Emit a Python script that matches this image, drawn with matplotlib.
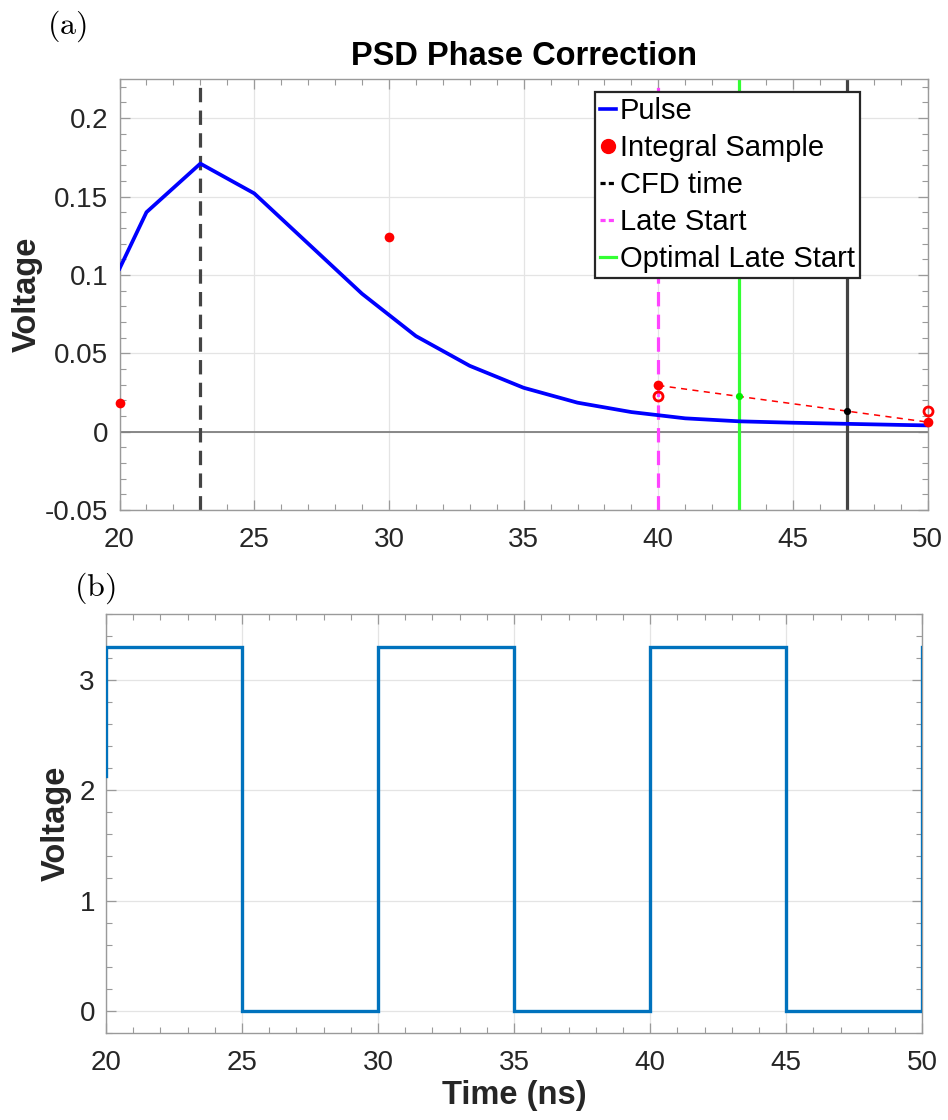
import numpy as np
import matplotlib
matplotlib.use("Agg")
import matplotlib.pyplot as plt
from matplotlib.ticker import MultipleLocator, FuncFormatter
from matplotlib.lines import Line2D

plt.rcParams['font.family'] = ['Liberation Sans', 'DejaVu Sans']
plt.rcParams['axes.unicode_minus'] = False
plt.rcParams['mathtext.fontset'] = 'cm'

# ---- pulse waveform (ns, V) ----
pulse_t = [20, 21, 23, 25, 27, 29, 31, 33, 35, 37, 39, 41, 43, 45, 47, 49, 50]
pulse_v = [0.104, 0.140, 0.171, 0.152, 0.120, 0.088, 0.061, 0.042, 0.028,
           0.0185, 0.0125, 0.0085, 0.0066, 0.0057, 0.0050, 0.0043, 0.0040]

# integral samples taken every 10 ns
sample_t = [20, 30, 40, 50]
sample_v = [0.018, 0.124, 0.0295, 0.0061]

# phase-corrected sample values (re-plotted at the window edges)
shifted_t = [40, 50]
shifted_v = [0.0225, 0.0132]

# timing markers
cfd_time = 23
late_start = 40
optimal_late_start = 43
late_end = 47
optimal_v = 0.0225
late_end_v = 0.0132

# ---- clock signal ----
clock_t = [20, 20, 25, 25, 30, 30, 35, 35, 40, 40, 45, 45, 50, 50]
clock_v = [2.13, 3.3, 3.3, 0, 0, 3.3, 3.3, 0, 0, 3.3, 3.3, 0, 0, 3.3]

x_ticks = [20, 25, 30, 35, 40, 45, 50]

SPINE = '#9a9a9a'
TXT = '#262626'
TICK_FS = 20
LABEL_FS = 23.5

fig = plt.figure(figsize=(9.48, 11.2), dpi=100)
ax1 = fig.add_axes([0.1261, 0.5446, 0.8525, 0.3849])
ax2 = fig.add_axes([0.1118, 0.0777, 0.8610, 0.3744])


def style_axes(ax):
    for s in ax.spines.values():
        s.set_color(SPINE)
        s.set_linewidth(1.0)
    ax.tick_params(which='both', direction='in', top=True, right=True,
                   color=SPINE, labelcolor=TXT, labelsize=TICK_FS)
    ax.tick_params(which='major', length=7, width=0.9, pad=8)
    ax.tick_params(axis='x', which='major', pad=12)
    ax.tick_params(which='minor', length=4.5, width=0.8)
    ax.grid(True, which='major', color='#e4e4e4', linewidth=0.9)
    ax.set_axisbelow(True)
    ax.set_xlim(20, 50)
    ax.set_xticks(x_ticks)
    ax.xaxis.set_minor_locator(MultipleLocator(1))


fmt = FuncFormatter(lambda v, p: ('%g' % round(v, 4)))

# ---------- (a) PSD phase correction ----------
style_axes(ax1)
ax1.set_ylim(-0.05, 0.225)
ax1.yaxis.set_major_locator(MultipleLocator(0.05))
ax1.yaxis.set_minor_locator(MultipleLocator(0.01))
ax1.yaxis.set_major_formatter(fmt)

ax1.axhline(0, color='#808080', linewidth=1.3, zorder=1.5)

ax1.axvline(cfd_time, color='#444444', linewidth=2.3, dashes=(4.5, 2.6), zorder=2)
ax1.axvline(late_start, color='#ff44ff', linewidth=2.3, dashes=(4.5, 2.6), zorder=2)
ax1.axvline(optimal_late_start, color='#33ff33', linewidth=2.3, zorder=2)
ax1.axvline(late_end, color='#444444', linewidth=2.3, zorder=2)

ax1.plot(pulse_t, pulse_v, color='#0000ff', linewidth=2.7, zorder=3,
         solid_joinstyle='round')

ax1.plot([sample_t[2], sample_t[3]], [sample_v[2], sample_v[3]], color='#ff0000',
         linewidth=1.1, dashes=(4, 3.5), zorder=3)
ax1.plot(sample_t, sample_v, 'o', color='#ff0000', markersize=7, zorder=4,
         clip_on=False, markeredgewidth=0)
ax1.plot(shifted_t, shifted_v, 'o', markerfacecolor='none', markeredgecolor='#ff0000',
         markersize=6.5, markeredgewidth=2.0, zorder=4, clip_on=False)
ax1.plot([optimal_late_start], [optimal_v], 'o', color='#00ee00', markersize=5.2,
         markeredgewidth=0, zorder=5)
ax1.plot([late_end], [late_end_v], 'o', color='#000000', markersize=5.2,
         markeredgewidth=0, zorder=5)

ax1.set_title('PSD Phase Correction', fontsize=LABEL_FS, fontweight='bold',
              color='#000000', pad=10)
ax1.set_ylabel('Voltage', fontsize=LABEL_FS, fontweight='bold', color=TXT)
ax1.yaxis.set_label_coords(-0.0947, 0.5)

handles = [
    Line2D([], [], color='#0000ff', linewidth=2.6),
    Line2D([], [], color='#ff0000', marker='o', linestyle='none', markersize=10),
    Line2D([], [], color='#000000', linewidth=2.3, dashes=(1.6, 1.0)),
    Line2D([], [], color='#ff44ff', linewidth=2.3, dashes=(1.6, 1.0)),
    Line2D([], [], color='#33ff33', linewidth=2.3),
]
labels = ['Pulse', 'Integral Sample', 'CFD time', 'Late Start', 'Optimal Late Start']
leg = ax1.legend(handles, labels, loc='upper left', bbox_to_anchor=(0.588, 0.970),
                 borderaxespad=0, fontsize=21, frameon=True, fancybox=False,
                 framealpha=1, edgecolor='#262626', handlelength=0.55,
                 handletextpad=0.15, borderpad=0.17, labelspacing=0.31)
leg.get_frame().set_linewidth(1.6)
leg.set_zorder(10)

# ---------- (b) clock ----------
style_axes(ax2)
ax2.set_ylim(-0.2, 3.6)
ax2.yaxis.set_major_locator(MultipleLocator(1))
ax2.yaxis.set_minor_locator(MultipleLocator(0.2))
ax2.yaxis.set_major_formatter(fmt)
ax2.plot(clock_t, clock_v, color='#0072bd', linewidth=2.4, zorder=3,
         solid_joinstyle='miter')
ax2.set_ylabel('Voltage', fontsize=LABEL_FS, fontweight='bold', color=TXT)
ax2.yaxis.set_label_coords(-0.0416, 0.5)
ax2.set_xlabel('Time (ns)', fontsize=LABEL_FS, fontweight='bold', color=TXT)
ax2.xaxis.set_label_coords(0.5, -0.113)

fig.text(0.0500, 0.9763, r'$\mathrm{(a)}$', fontsize=23, ha='left', va='center')
fig.text(0.0780, 0.4750, r'$\mathrm{(b)}$', fontsize=23, ha='left', va='center')

fig.savefig('out.png', dpi=100)
